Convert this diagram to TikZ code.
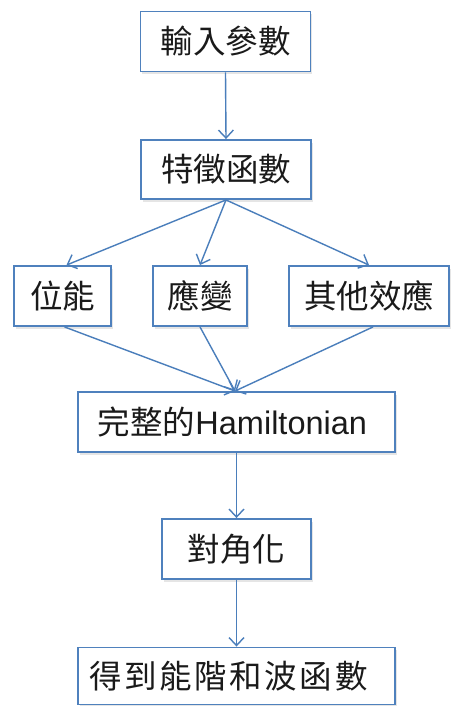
\documentclass[tikz,border=0pt]{standalone}
\usepackage{fontspec}
\setmainfont{Liberation Sans}
\newfontfamily\cjk{Noto Sans CJK TC}
\newfontfamily\cjkwide[LetterSpace=8]{Noto Sans CJK TC}
\usetikzlibrary{arrows.meta,shadows}
\definecolor{boxblue}{HTML}{4F81BD}
\definecolor{arrowblue}{HTML}{4A7EBB}
\definecolor{txt}{HTML}{1A1A1A}
\tikzset{
  flowbox/.style={draw=boxblue, line width=1.9pt, fill=white, rectangle,
    inner sep=0pt, text=txt, font=\fontsize{32.5}{36}\selectfont\cjk,
    drop shadow={shadow xshift=1.5pt, shadow yshift=-2.5pt, opacity=0.2, fill=gray}},
  flowarrow/.style={draw=arrowblue, line width=1.4pt,
    -{Straight Barb[length=8pt,width=15pt,line width=1.4pt]}}
}
\begin{document}
\begin{tikzpicture}[x=1pt,y=-1pt]
\useasboundingbox[fill=white] (0,0) rectangle (451,706);
\node[flowbox, minimum width=170pt, minimum height=60pt] (in) at (225.5,41.5) {輸入參數};
\node[flowbox, minimum width=170pt, minimum height=59pt] (feat) at (226,169.5) {特徵函數};
\node[flowbox, minimum width=97pt, minimum height=60pt] (pot) at (62.5,296) {位能};
\node[flowbox, minimum width=94pt, minimum height=60pt] (strain) at (200,296) {應變};
\node[flowbox, minimum width=160pt, minimum height=60pt] (other) at (369,296) {其他效應};
\node[flowbox, minimum width=317pt, minimum height=60pt] (ham) at (236.5,422) {\hspace*{-8pt}完整的{\fontspec{Liberation Sans}Hamiltonian}};
\node[flowbox, minimum width=149pt, minimum height=60pt] (diag) at (236.5,549) {對角化};
\node[flowbox, minimum width=317pt, minimum height=57pt] (res) at (236.5,676) {\hspace*{-16pt}{\cjkwide 得到能階和波函數}};
\draw[flowarrow] (in.south) -- (feat.north);
\draw[flowarrow] (feat.south) -- ([xshift=4pt]pot.north);
\draw[flowarrow] (feat.south) -- (strain.north);
\draw[flowarrow] (feat.south) -- (other.north);
\draw[flowarrow] ([xshift=2pt]pot.south) -- ([xshift=-1.5pt]ham.north);
\draw[flowarrow] (strain.south) -- ([xshift=-1.5pt]ham.north);
\draw[flowarrow] ([xshift=4pt]other.south) -- ([xshift=-1.5pt]ham.north);
\draw[flowarrow] (ham.south) -- (diag.north);
\draw[flowarrow] (diag.south) -- (res.north);
\end{tikzpicture}
\end{document}
